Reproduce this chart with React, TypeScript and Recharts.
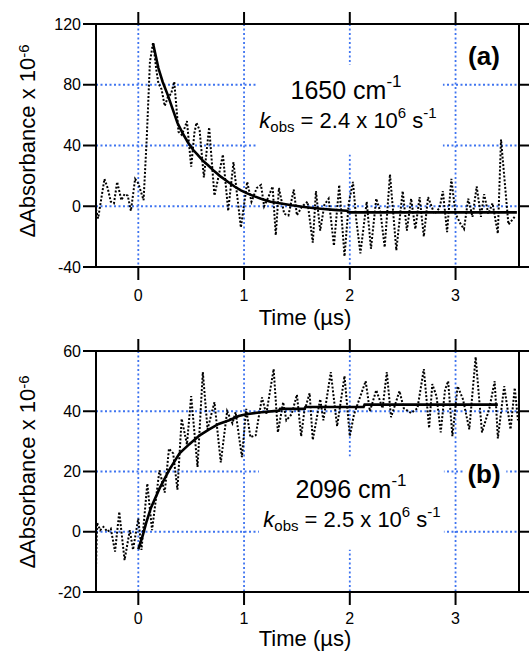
import React from 'react';
import { LineChart, Line, XAxis, YAxis, CartesianGrid, ReferenceArea } from 'recharts';

// time axis (µs) shared by both panels
const timeDomain: [number, number] = [-0.4, 3.6];
const timeTicks = [0, 1, 2, 3];

// panel (a) 1650 cm-1
const ticksA = [-40, 0, 40, 80, 120];
const signalA: [number, number][] = [
  [-0.4, -2], [-0.38, -8], [-0.35, 5], [-0.32, 18], [-0.29, 12], [-0.26, 3], [-0.23, 2], [-0.2, 16],
  [-0.16, 4], [-0.13, 8], [-0.1, 7], [-0.07, -3], [-0.03, 18], [0, 15], [0.05, 4], [0.08, 45],
  [0.11, 95], [0.14, 108], [0.17, 90], [0.19, 81], [0.22, 77], [0.25, 66], [0.28, 72], [0.31, 74],
  [0.34, 82], [0.38, 49], [0.41, 47], [0.44, 52], [0.46, 56], [0.5, 26], [0.53, 48], [0.55, 55],
  [0.58, 50], [0.62, 19], [0.67, 52], [0.72, 7], [0.76, 20], [0.8, 34], [0.85, -3], [0.9, 29],
  [0.93, 10], [0.97, -14], [1.03, 16], [1.07, 3], [1.12, 12], [1.16, 14], [1.19, 0], [1.23, 6],
  [1.27, 13], [1.3, -19], [1.33, 12], [1.38, -5], [1.42, -6], [1.47, 11], [1.5, -6], [1.55, 0],
  [1.6, 3], [1.65, -24], [1.68, 10], [1.72, -16], [1.76, 1], [1.8, 5], [1.85, -26], [1.9, 14],
  [1.95, -33], [1.99, 2], [2.03, 16], [2.06, -8], [2.1, -31], [2.16, 3], [2.2, -28], [2.25, 5],
  [2.29, -4], [2.33, -27], [2.38, 21], [2.44, -29], [2.5, 10], [2.54, -16], [2.58, 5], [2.62, -15],
  [2.66, 6], [2.7, -20], [2.74, 6], [2.8, -5], [2.85, -1], [2.88, 10], [2.92, -17], [2.96, 18],
  [3.0, -5], [3.05, -12], [3.08, -15], [3.12, 5], [3.16, -7], [3.2, 13], [3.24, -7], [3.27, 8],
  [3.31, -5], [3.35, 2], [3.4, -18], [3.43, 44], [3.5, -12], [3.57, -6],
];
const fitA: [number, number][] = [
  [0.14, 107], [0.19, 91], [0.23, 82], [0.28, 73], [0.33, 63], [0.37, 55], [0.42, 48], [0.47, 42],
  [0.52, 37], [0.56, 34], [0.61, 30], [0.66, 27], [0.72, 23], [0.78, 19.5], [0.85, 16], [0.91, 13],
  [0.97, 10.5], [1.03, 8.5], [1.1, 6.5], [1.16, 5], [1.25, 3], [1.35, 1.8], [1.45, 0.6], [1.55, -0.3],
  [1.65, -1.1], [1.75, -1.8], [1.85, -2.4], [1.97, -3], [2.0, -4], [2.6, -4], [3.58, -4],
];

// panel (b) 2096 cm-1
const ticksB = [-20, 0, 20, 40, 60];
const signalB: [number, number][] = [
  [-0.4, -12], [-0.39, 3], [-0.36, 0.5], [-0.33, 1.6], [-0.29, 0], [-0.26, 1], [-0.22, -6.6], [-0.18, 6.6],
  [-0.13, -9.4], [-0.08, 0.5], [-0.05, -6], [0, 4.4], [0.03, -6], [0.085, 16], [0.13, 0.5], [0.2, 20.4],
  [0.25, 13], [0.29, 27.6], [0.33, 26], [0.37, 14], [0.41, 37.5], [0.46, 29], [0.5, 45], [0.56, 21.5],
  [0.61, 53], [0.655, 34], [0.72, 43], [0.78, 23], [0.84, 40], [0.89, 36], [0.92, 39.7], [0.98, 24.8],
  [1.02, 40.8], [1.06, 31.4], [1.11, 32], [1.17, 44.6], [1.21, 39], [1.28, 54], [1.32, 33], [1.37, 43],
  [1.4, 37], [1.45, 39], [1.5, 45.5], [1.54, 31.7], [1.57, 40], [1.62, 46], [1.65, 30.5], [1.72, 44],
  [1.75, 37], [1.82, 53], [1.88, 35], [1.95, 51.7], [2.0, 31.7], [2.04, 39], [2.09, 44], [2.15, 50],
  [2.19, 40], [2.25, 47], [2.31, 41], [2.35, 53], [2.39, 38], [2.47, 46.7], [2.51, 41], [2.58, 39.4],
  [2.64, 41], [2.7, 54], [2.75, 34.4], [2.78, 49], [2.82, 45], [2.86, 33], [2.9, 47], [2.93, 50],
  [2.97, 31.7], [3.02, 48.3], [3.07, 44], [3.13, 34], [3.19, 58], [3.25, 33], [3.32, 41], [3.37, 50],
  [3.4, 31], [3.46, 48.3], [3.52, 34], [3.56, 47.8], [3.59, 37],
];
const fitB: [number, number][] = [
  [0, -5.8], [0.04, -1.5], [0.075, 3], [0.12, 8], [0.2, 14.3], [0.29, 20.4], [0.39, 26], [0.48, 29],
  [0.58, 32], [0.67, 34], [0.76, 35.8], [0.86, 37], [0.95, 38.4], [1.02, 39], [1.14, 39.6], [1.33, 40.2],
  [1.34, 40.8], [1.57, 40.8], [1.58, 41.4], [2.13, 41.4], [2.14, 42.2], [3.4, 42.2],
];

const toPoints = (pairs: [number, number][]) => pairs.map(([x, y]) => ({ x, y }));

const font = "'Liberation Sans', Arial, Helvetica, sans-serif";
const gridBlue = '#3f74f0';
const axisStyle = { stroke: '#000', strokeWidth: 2 };
const tickStyle = { fill: '#000', fontSize: 16, fontFamily: font };
const noLabel = () => '';

interface PanelProps {
  top: number;
  height: number;
  marginTop: number;
  bottomHeight: number;
  labelGap: number;
  yDomain: [number, number];
  yTicks: number[];
  signal: [number, number][];
  fit: [number, number][];
  boxes: { x1: number; x2: number; y1: number; y2: number }[];
}

const Panel: React.FC<PanelProps> = ({ top, height, marginTop, bottomHeight, labelGap, yDomain, yTicks, signal, fit, boxes }) => (
  <div style={{ position: 'absolute', left: 0, top }}>
    <LineChart width={529} height={height} margin={{ top: marginTop, right: 0, bottom: 0, left: 0 }}>
      <CartesianGrid xAxisId="b" yAxisId="l" stroke={gridBlue} strokeWidth={1.8} strokeDasharray="2 2.5" />
      <XAxis xAxisId="b" type="number" dataKey="x" domain={timeDomain} ticks={timeTicks} allowDataOverflow
        height={bottomHeight} tickSize={13} tickMargin={labelGap} axisLine={axisStyle} tickLine={axisStyle} tick={tickStyle} />
      <XAxis xAxisId="t" orientation="top" type="number" dataKey="x" domain={timeDomain} ticks={timeTicks} allowDataOverflow
        height={14} tickSize={12} tickFormatter={noLabel} axisLine={axisStyle} tickLine={axisStyle} />
      <YAxis yAxisId="l" type="number" domain={yDomain} ticks={yTicks} allowDataOverflow width={96}
        tickSize={13} tickMargin={2} axisLine={axisStyle} tickLine={axisStyle} tick={tickStyle} />
      <YAxis yAxisId="r" orientation="right" type="number" domain={yDomain} ticks={yTicks} allowDataOverflow width={10}
        tickSize={10} tickFormatter={noLabel} axisLine={axisStyle} tickLine={axisStyle} />
      {boxes.map((b, i) => (
        <ReferenceArea key={i} xAxisId="b" yAxisId="l" x1={b.x1} x2={b.x2} y1={b.y1} y2={b.y2}
          fill="#fff" fillOpacity={1} stroke="none" />
      ))}
      <Line xAxisId="b" yAxisId="l" data={toPoints(signal)} dataKey="y" type="linear" stroke="#000"
        strokeWidth={2} strokeDasharray="2 1.8" dot={false} isAnimationActive={false} />
      <Line xAxisId="b" yAxisId="l" data={toPoints(fit)} dataKey="y" type="linear" stroke="#000"
        strokeWidth={2.6} dot={false} isAnimationActive={false} />
    </LineChart>
  </div>
);

const YTitle: React.FC<{ cy: number }> = ({ cy }) => (
  <text transform={`translate(35, ${cy}) rotate(-90)`} textAnchor="middle" fontSize={22}>
    ΔAbsorbance x 10<tspan fontSize={15} dy={-6}>-6</tspan>
  </text>
);

const App: React.FC = () => (
  <div style={{ position: 'absolute', left: 0, top: 0, width: 529, height: 651, background: '#fff', fontFamily: font }}>
    <Panel top={0} height={320} marginTop={10} bottomHeight={53} labelGap={10} yDomain={[-40, 120]} yTicks={ticksA}
      signal={signalA} fit={fitA} boxes={[{ x1: 1.13, x2: 2.88, y1: 34, y2: 93 }]} />
    <Panel top={300} height={351} marginTop={37} bottomHeight={59} labelGap={8} yDomain={[-20, 60]} yTicks={ticksB}
      signal={signalB} fit={fitB} boxes={[{ x1: 1.14, x2: 2.89, y1: -6, y2: 25 }, { x1: 3.09, x2: 3.48, y1: 14, y2: 23 }]} />
    <svg width={529} height={651} style={{ position: 'absolute', left: 0, top: 0, pointerEvents: 'none' }} fontFamily={font} fill="#000">
      <YTitle cy={141} />
      <YTitle cy={472} />
      <text x={305} y={325} textAnchor="middle" fontSize={22}>Time (µs)</text>
      <text x={305} y={646} textAnchor="middle" fontSize={22}>Time (µs)</text>

      <text x={484} y={65} textAnchor="middle" fontSize={26} fontWeight="bold">(a)</text>
      <text x={346} y={99} textAnchor="middle" fontSize={25}>
        1650 cm<tspan fontSize={17} dy={-12}>-1</tspan>
      </text>
      <text x={348} y={128} textAnchor="middle" fontSize={22}>
        <tspan fontStyle="italic">k</tspan>
        <tspan fontSize={15} dy={4}>obs</tspan>
        <tspan dy={-4}>{' = 2.4 x 10'}</tspan>
        <tspan fontSize={15} dy={-10}>6</tspan>
        <tspan dy={10}>{' s'}</tspan>
        <tspan fontSize={15} dy={-10}>-1</tspan>
      </text>

      <text x={484} y={483} textAnchor="middle" fontSize={26} fontWeight="bold">(b)</text>
      <text x={351} y={498} textAnchor="middle" fontSize={25}>
        2096 cm<tspan fontSize={17} dy={-12}>-1</tspan>
      </text>
      <text x={352} y={527} textAnchor="middle" fontSize={22}>
        <tspan fontStyle="italic">k</tspan>
        <tspan fontSize={15} dy={4}>obs</tspan>
        <tspan dy={-4}>{' = 2.5 x 10'}</tspan>
        <tspan fontSize={15} dy={-10}>6</tspan>
        <tspan dy={10}>{' s'}</tspan>
        <tspan fontSize={15} dy={-10}>-1</tspan>
      </text>
    </svg>
  </div>
);

export default App;
